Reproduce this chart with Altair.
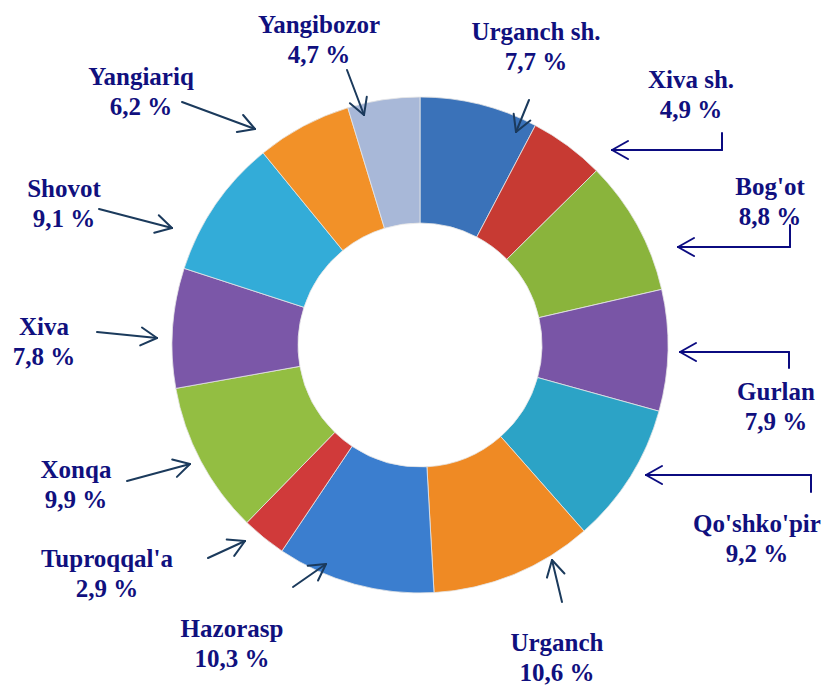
import math
import altair as alt
import pandas as pd

# ---- data ----
names = ["Urganch sh.", "Xiva sh.", "Bog'ot", "Gurlan", "Qo'shko'pir", "Urganch",
         "Hazorasp", "Tuproqqal'a", "Xonqa", "Xiva", "Shovot", "Yangiariq", "Yangibozor"]
values = [7.7, 4.9, 8.8, 7.9, 9.2, 10.6, 10.3, 2.9, 9.9, 7.8, 9.1, 6.2, 4.7]
colors = ["#3A72B9", "#C73A33", "#8AB43C", "#7955A6", "#2CA3C6", "#EF8A24",
          "#3B7ECF", "#D03A3A", "#93BE42", "#7B57A8", "#33ACD8", "#F29128", "#A8B8D8"]

# ---- annotation layout (page pixels) ----
label_x = [536, 691, 770, 776, 757, 557, 232, 107, 76, 44, 64, 141, 319]
label_y = [40, 88, 195, 400, 532, 651, 637, 567, 478, 335, 197, 85, 33]
# arrow polylines: tail ... tip
arrow_paths = [
    [(529, 100), (516, 132)],
    [(722, 133), (722, 150), (612, 150)],
    [(790, 225), (790, 247), (678, 247)],
    [(789, 368), (789, 352), (680, 352)],
    [(811, 492), (811, 475), (646, 475)],
    [(562, 602), (552, 560)],
    [(293, 587), (326, 564)],
    [(208, 558), (245, 541)],
    [(127, 481), (190, 464)],
    [(97, 332), (157, 338)],
    [(99, 209), (172, 228)],
    [(182, 102), (255, 129)],
    [(347, 70), (364, 115)],
]
arrow_colors = ["#1B3A5C", "#0B0B80", "#0B0B80", "#0B0B80", "#0B0B80", "#1B3A5C",
                "#1B3A5C", "#1B3A5C", "#1B3A5C", "#1B3A5C", "#1B3A5C", "#1B3A5C", "#1B3A5C"]

W, H = 816, 680
CX, CY = 420, 345  # page coords of donut centre
R_OUT, R_IN = 248, 122

def fmt(v):
    return f"{v:.1f}".replace(".", ",") + " %"

slices = pd.DataFrame({"name": names, "value": values, "order": list(range(len(names)))})
labels = pd.DataFrame({
    "txt": [f"{n}\n{fmt(v)}" for n, v in zip(names, values)],
    "x": label_x, "y": label_y,
})

segs = []
for path, col in zip(arrow_paths, arrow_colors):
    for (x1, y1), (x2, y2) in zip(path[:-1], path[1:]):
        segs.append({"x": x1, "y": y1, "x2": x2, "y2": y2, "c": col})
    (tx0, ty0), (tx, ty) = path[-2], path[-1]
    dx, dy = tx - tx0, ty - ty0
    L = math.hypot(dx, dy)
    ux, uy = dx / L, dy / L
    px, py = -uy, ux
    for s in (1, -1):
        segs.append({"x": tx, "y": ty,
                     "x2": tx - 16 * ux + s * 9 * px,
                     "y2": ty - 16 * uy + s * 9 * py, "c": col})
segdf = pd.DataFrame(segs)

xs = alt.Scale(domain=[8, 8 + W])
ys = alt.Scale(domain=[8, 8 + H], reverse=True)

shadow = alt.Chart(pd.DataFrame({"v": [1]})).mark_arc(
    radius=R_OUT + 6, radius2=R_IN + 30,
    color={"gradient": "radial", "x1": 0.5, "y1": 0.5, "r1": 0, "x2": 0.5, "y2": 0.5, "r2": 0.5,
           "stops": [{"offset": 0.0, "color": "rgba(0,0,0,0)"},
                     {"offset": 0.8, "color": "rgba(0,0,0,0)"},
                     {"offset": 0.95, "color": "rgba(0,0,0,0.16)"},
                     {"offset": 1.0, "color": "rgba(0,0,0,0)"}]},
).encode(theta=alt.Theta("v:Q"), x=alt.value(CX - 8 + 2), y=alt.value(CY - 8 + 5))

arcs = alt.Chart(slices).mark_arc(
    radius=R_OUT, radius2=R_IN, stroke="#e6e6e6", strokeWidth=0.8
).encode(
    theta=alt.Theta("value:Q", stack=True),
    order=alt.Order("order:Q"),
    color=alt.Color("name:N", scale=alt.Scale(domain=names, range=colors), legend=None),
    x=alt.value(CX - 8), y=alt.value(CY - 8),
)

rules = alt.Chart(segdf).mark_rule(strokeWidth=2, strokeCap="round").encode(
    x=alt.X("x:Q", scale=xs, axis=None),
    y=alt.Y("y:Q", scale=ys, axis=None),
    x2="x2:Q", y2="y2:Q",
    color=alt.Color("c:N", scale=None),
)

texts = alt.Chart(labels).mark_text(
    font="Liberation Serif", fontWeight="bold", fontSize=25,
    color="#10107E", align="center", baseline="alphabetic", lineBreak="\n", lineHeight=30,
).encode(
    x=alt.X("x:Q", scale=xs, axis=None),
    y=alt.Y("y:Q", scale=ys, axis=None),
    text="txt:N",
)

chart = alt.layer(shadow, arcs, rules, texts).resolve_scale(color="independent").properties(
    width=W, height=H, padding=0, autosize=alt.AutoSizeParams(type="none"),
).configure_view(stroke=None)

chart.save("out.html", embed_options={"renderer": "svg", "actions": False})
